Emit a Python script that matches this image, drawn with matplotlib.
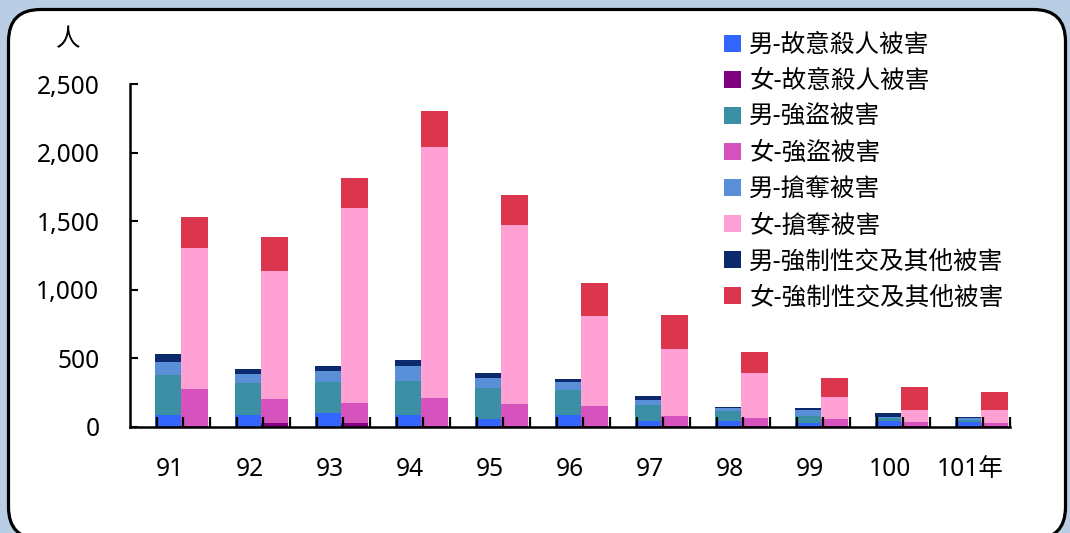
import matplotlib.pyplot as plt
from matplotlib.patches import FancyBboxPatch
from matplotlib.transforms import IdentityTransform

plt.rcParams['font.family'] = ['Noto Sans', 'Noto Sans CJK TC']

# 年度 (民國)
years = ['91', '92', '93', '94', '95', '96', '97', '98', '99', '100', '101年']

# 男性被害人數
m_murder = [85, 85, 102, 85, 56, 85, 44, 44, 29, 40, 36]
m_robbery = [292, 236, 222, 251, 224, 183, 114, 73, 49, 20, 14]
m_snatch = [97, 61, 83, 109, 73, 61, 37, 17, 44, 10, 12]
m_sexual = [60, 37, 36, 42, 37, 17, 29, 12, 17, 30, 7]

# 女性被害人數
f_murder = [5, 29, 25, 5, 5, 5, 5, 3, 3, 3, 2]
f_robbery = [268, 171, 150, 202, 161, 146, 73, 58, 51, 33, 23]
f_snatch = [1029, 939, 1419, 1837, 1306, 657, 487, 329, 161, 86, 97]
f_sexual = [227, 248, 219, 263, 219, 243, 250, 158, 138, 170, 133]

labels = ['男-故意殺人被害', '女-故意殺人被害', '男-強盜被害', '女-強盜被害',
          '男-搶奪被害', '女-搶奪被害', '男-強制性交及其他被害', '女-強制性交及其他被害']
colors = ['#3366ff', '#800080', '#3a8fa5', '#d652bd',
          '#588fd6', '#ffa0d5', '#0a2a6b', '#dc364e']

fig = plt.figure(figsize=(10.7, 5.33), dpi=100)
fig.patch.set_facecolor('#b9cde4')

# white rounded panel
panel = FancyBboxPatch((8.5, -6), 1057, 529.5, boxstyle='round,pad=0,rounding_size=32',
                       transform=IdentityTransform(), facecolor='white',
                       edgecolor='black', linewidth=2.3, zorder=-5)
fig.patches.append(panel)

ax = fig.add_axes([130 / 1070, 1 - 426.7 / 533, 880 / 1070, 342.4 / 533])
ax.patch.set_alpha(0)
ax.set_zorder(2)

n = len(years)
xm = [1.42 + 3 * i for i in range(n)]
xf = [2.42 + 3 * i for i in range(n)]

male = [m_murder, m_robbery, m_snatch, m_sexual]
female = [f_murder, f_robbery, f_snatch, f_sexual]

handles = []
bm = [0] * n
bf = [0] * n
for k in range(4):
    hm = ax.bar(xm, male[k], width=1.0, bottom=bm, color=colors[2 * k], linewidth=0)
    hf = ax.bar(xf, female[k], width=1.0, bottom=bf, color=colors[2 * k + 1], linewidth=0)
    bm = [a + b for a, b in zip(bm, male[k])]
    bf = [a + b for a, b in zip(bf, female[k])]
    handles += [hm, hf]

ax.set_xlim(0, 3 * n)
ax.set_ylim(0, 2500)

ax.set_yticks([0, 500, 1000, 1500, 2000, 2500])
ax.set_yticklabels(['{:,}'.format(v) for v in [0, 500, 1000, 1500, 2000, 2500]])
ax.tick_params(axis='y', direction='in', length=6, width=1.5, pad=22, labelsize=17.7)

ax.set_xticks([1.5 + 3 * i for i in range(n)])
ax.set_xticklabels(years)
ax.tick_params(axis='x', which='major', length=0, pad=22, labelsize=17.7)
ax.set_xticks(range(1, 3 * n + 1), minor=True)
ax.tick_params(axis='x', which='minor', direction='in', length=7, width=1.6)

for s in ['top', 'right']:
    ax.spines[s].set_visible(False)
for s in ['left', 'bottom']:
    ax.spines[s].set_linewidth(1.8)

fig.text(68 / 1070, 1 - 40 / 533, '人', fontsize=17.7, ha='center', va='center')

leg = fig.legend(handles, labels, loc='upper left', bbox_to_anchor=(724 / 1070, 1 - 33 / 533),
                 frameon=False, fontsize=17.7, handlelength=0.69, handleheight=0.69,
                 handletextpad=0.33, labelspacing=0.45, borderpad=0, borderaxespad=0)
leg.set_zorder(3)

fig.savefig('out.png', dpi=100, facecolor=fig.get_facecolor())
